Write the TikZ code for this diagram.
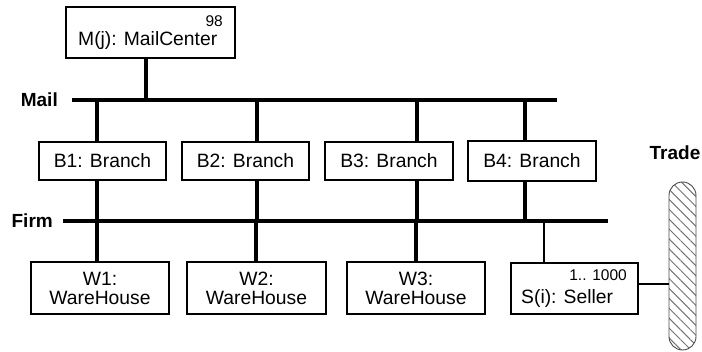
\documentclass[tikz,border=0pt]{standalone}
\usepackage{fontspec}
\setmainfont{Liberation Sans}
\usetikzlibrary{patterns.meta}
\begin{document}
\begin{tikzpicture}[x=1pt,y=-1pt,
  txt/.style={font=\fontsize{19.3}{19}\selectfont},
  small/.style={font=\fontsize{15.5}{15.5}\selectfont, inner sep=0pt},
  lbl/.style={font=\fontsize{19}{19}\selectfont\bfseries, inner sep=0pt},
  objbox/.style={draw, line width=1.5pt, fill=white, inner sep=0pt, txt},
  bus/.style={line width=3.4pt},
  stem/.style={line width=3.4pt},
  thinstem/.style={line width=1.6pt},
  pill/.style={draw=black!70, line width=0.9pt, rounded corners=13.5pt, inner sep=0pt,
     minimum width=27pt, minimum height=168pt,
     pattern={Lines[angle=-45,distance=7pt,line width=1pt]}, pattern color=black!55}]
\useasboundingbox (0,0) rectangle (702,352);
% bus coordinates
\coordinate (mailL) at (72,100);
\coordinate (mailR) at (557,100);
\coordinate (firmL) at (63,221);
\coordinate (firmR) at (608,221);
\coordinate (x0) at (146,0);
\coordinate (x1) at (97,0);
\coordinate (x2) at (257,0);
\coordinate (x3) at (417,0);
\coordinate (x4) at (525,0);
\coordinate (w2) at (256,0);
\coordinate (w3) at (416,0);
\coordinate (xs) at (544,0);
% buses
\draw[bus] (mailL) -- (mailR);
\draw[bus] (firmL) -- (firmR);
\node[lbl, anchor=east] (maillbl) at (58,100) {Mail};
\node[lbl, anchor=east] (firmlbl) at (53,221) {Firm};
% Mail center
\node[objbox, minimum width=169pt, minimum height=51pt] (M) at (150.5,32.5) {};
\node[txt, anchor=base west, inner sep=0pt] (Mt) at (78,46) {M(j): MailCenter};
\node[small, anchor=base east] (Mm) at (223,27) {98};
\draw[stem] (M.south -| x0) -- (mailL -| x0);
% branches
\node[objbox, minimum width=127pt, minimum height=38pt] (B1) at (102.5,161) {B1: Branch};
\node[objbox, minimum width=127pt, minimum height=38pt] (B2) at (245.5,161) {B2: Branch};
\node[objbox, minimum width=128pt, minimum height=38pt] (B3) at (389,161) {B3: Branch};
\node[objbox, minimum width=128pt, minimum height=40pt] (B4) at (532,161) {B4: Branch};
\draw[stem] (mailL -| x1) -- (B1.north -| x1);
\draw[stem] (B1.south -| x1) -- (firmL -| x1);
\draw[stem] (mailL -| x2) -- (B2.north -| x2);
\draw[stem] (B2.south -| x2) -- (firmL -| x2);
\draw[stem] (mailL -| x3) -- (B3.north -| x3);
\draw[stem] (B3.south -| x3) -- (firmL -| x3);
\draw[stem] (mailL -| x4) -- (B4.north -| x4);
\draw[stem] (B4.south -| x4) -- (firmL -| x4);
% warehouses
\node[objbox, minimum width=138pt, minimum height=52pt, align=center] (W1) at (100,288) {W1:\\WareHouse};
\node[objbox, minimum width=139pt, minimum height=52pt, align=center] (W2) at (256.5,288) {W2:\\WareHouse};
\node[objbox, minimum width=138pt, minimum height=52pt, align=center] (W3) at (416,288) {W3:\\WareHouse};
\draw[stem] (firmL -| x1) -- (W1.north -| x1);
\draw[stem] (firmL -| w2) -- (W2.north -| w2);
\draw[stem] (firmL -| w3) -- (W3.north -| w3);
% seller
\node[objbox, minimum width=127pt, minimum height=51pt] (S) at (574.5,288.5) {};
\node[txt, anchor=base west, inner sep=0pt] (St) at (521,304) {S(i): Seller};
\node[small, anchor=base east] (Sm) at (627,281) {1.. 1000};
\draw[thinstem] (firmL -| xs) -- (S.north -| xs);
% trade
\node[pill] (T) at (682.5,266) {};
\node[lbl, anchor=center] (Tl) at (675,153) {Trade};
\draw[thinstem] (S.east |- 0,284) coordinate (se) -- (T.west |- se);
\end{tikzpicture}
\end{document}
